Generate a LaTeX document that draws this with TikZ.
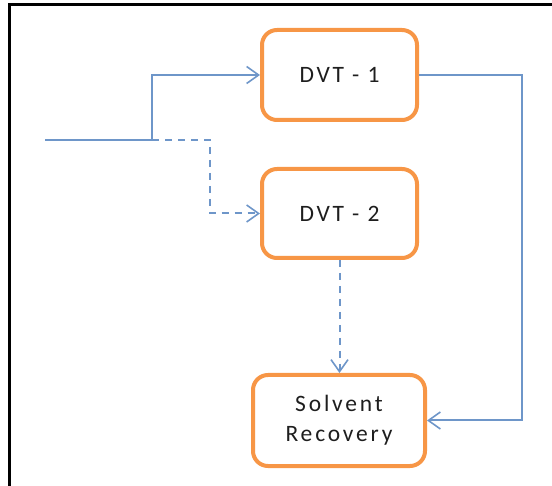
\documentclass[tikz,border=0pt]{standalone}
\usepackage{fontspec}
\setmainfont{Carlito}[LetterSpace=12]
\usetikzlibrary{arrows.meta}
\definecolor{flowblue}{HTML}{6E96C9}
\definecolor{boxorange}{HTML}{F79646}
\definecolor{labelgray}{HTML}{1E1E1E}
\tikzset{
  unitbox/.style={draw=boxorange, line width=4pt, rounded corners=15pt, fill=white,
    inner sep=0pt, text=labelgray, font=\fontsize{23.5}{30}\selectfont, align=center},
  flow/.style={draw=flowblue, line width=2pt, -{Straight Barb[length=12pt,width=17pt,line width=1.6pt]}},
  altflow/.style={flow, dash pattern=on 7pt off 6pt},
}
\begin{document}
\begin{tikzpicture}[x=1pt,y=-1pt]
  \useasboundingbox (0,0) rectangle (552,486);
  % outer frame (runs off the right and bottom edges)
  \draw[line width=3pt, black] (9.5,486) -- (9.5,4.5) -- (552,4.5);

  % process units
  \node[unitbox, minimum width=155pt, minimum height=90pt] (dvt1) at (339.5,75) {DVT - 1};
  \node[unitbox, minimum width=155pt, minimum height=89pt] (dvt2) at (339.5,213.5) {DVT - 2};
  \node[unitbox, minimum width=172pt, minimum height=91pt] (recovery) at (339,420.5) {Solvent\\Recovery};

  % feed and branch points
  \coordinate (feed) at (45,140);
  \coordinate (split) at (152,140);
  \coordinate (altturn) at (210,140);
  \coordinate (ret) at (522,75);

  % main feed to DVT-1
  \draw[flow] (feed) -- (split) |- (dvt1.west);
  % alternate feed to DVT-2
  \draw[altflow] (split) -- (altturn) |- (dvt2.west);
  % DVT-1 overhead to solvent recovery
  \draw[flow] (dvt1.east) -- (ret) |- (recovery.east);
  % DVT-2 to solvent recovery
  \draw[altflow] (dvt2.south) -- (recovery.north -| dvt2.south);
\end{tikzpicture}
\end{document}
